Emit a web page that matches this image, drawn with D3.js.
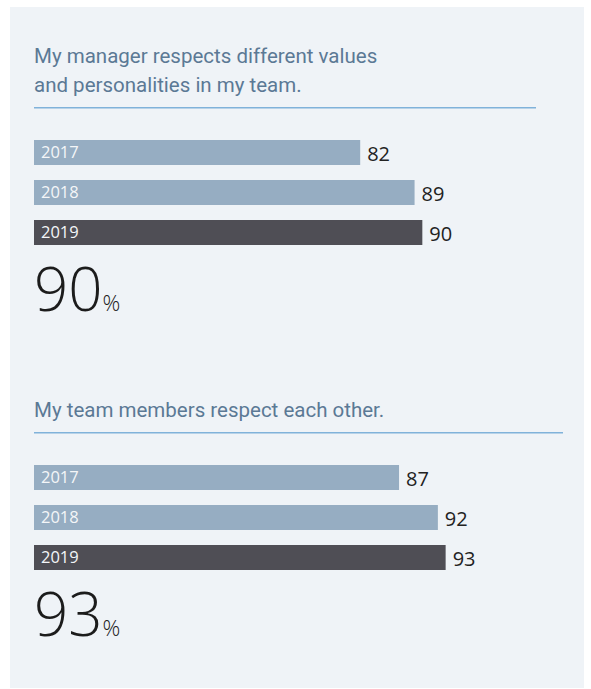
<!DOCTYPE html>
<html>
<head>
<meta charset="utf-8">
<script src="https://cdn.jsdelivr.net/npm/d3@7"></script>
<style>
  html, body { margin: 0; padding: 0; background: #ffffff; }
  svg { display: block; }
</style>
</head>
<body>
<svg id="chart" width="591" height="689"></svg>
<script>
// Survey years and agreement shares (%)
const years = ["2017", "2018", "2019"];
const managerValues = [82, 89, 90];
const teamValues = [87, 92, 93];

const managerTitle = ["My manager respects different values", "and personalities in my team."];
const teamTitle = ["My team members respect each other."];

const svg = d3.select("#chart");

// Panel background
svg.append("rect")
  .attr("x", 10).attr("y", 7)
  .attr("width", 574).attr("height", 681)
  .attr("fill", "#eff3f7");

// Shared horizontal scale for both blocks
const x = d3.scaleLinear().domain([40, 100]).range([34, 500]);

// Vertical band scale for the three years inside a block
const y = d3.scaleBand().domain(years).range([0, 105]).paddingInner(0.375).paddingOuter(0);

function drawBlock(titleLines, values, top, ruleEnd) {
  const g = svg.append("g").attr("transform", `translate(0,${top})`);

  // Question text
  const lineGap = 29;
  const lastBaseline = -48;
  g.selectAll("text.title")
    .data(titleLines)
    .join("text")
    .attr("class", "title")
    .attr("x", 34)
    .attr("y", (d, i) => lastBaseline - (titleLines.length - 1 - i) * lineGap)
    .attr("font-family", "Roboto, 'Open Sans', sans-serif")
    .attr("font-size", 20.5)
    .attr("fill", "#5b7995")
    .text(d => d);

  // Rule under the question
  g.append("line")
    .attr("x1", 34).attr("x2", ruleEnd)
    .attr("y1", -32.3).attr("y2", -32.3)
    .attr("stroke", "#80b2da")
    .attr("stroke-width", 1.5);

  const rows = years.map((yr, i) => ({ year: yr, value: values[i], latest: i === years.length - 1 }));

  // Bars
  g.selectAll("rect.bar")
    .data(rows)
    .join("rect")
    .attr("class", "bar")
    .attr("x", x.range()[0])
    .attr("y", d => y(d.year))
    .attr("width", d => x(d.value) - x.range()[0])
    .attr("height", y.bandwidth())
    .attr("fill", d => d.latest ? "#4f4e55" : "#96adc2");

  // Year labels inside bars
  g.selectAll("text.year")
    .data(rows)
    .join("text")
    .attr("class", "year")
    .attr("x", 41)
    .attr("y", d => y(d.year) + y.bandwidth() / 2)
    .attr("dy", "0.36em")
    .attr("font-family", "'Open Sans', sans-serif")
    .attr("font-size", 16.5)
    .attr("fill", "#f4f6f8")
    .text(d => d.year);

  // Value labels at bar ends
  g.selectAll("text.value")
    .data(rows)
    .join("text")
    .attr("class", "value")
    .attr("x", d => x(d.value) + 7)
    .attr("y", d => y(d.year) + y.bandwidth() / 2)
    .attr("dy", "0.42em")
    .attr("font-family", "'Open Sans', sans-serif")
    .attr("font-size", 20)
    .attr("fill", "#222222")
    .text(d => d.value);

  // Headline figure for the latest year
  const headline = g.append("text")
    .attr("x", 34)
    .attr("y", 171)
    .attr("font-family", "'Open Sans', sans-serif")
    .attr("fill", "#1c1c1c");
  headline.append("tspan")
    .attr("font-size", 60)
    .attr("font-weight", 300)
    .text(values[values.length - 1]);
  headline.append("tspan")
    .attr("font-size", 22)
    .attr("font-weight", 300)
    .text("%");
}

drawBlock(managerTitle, managerValues, 140, 536);
drawBlock(teamTitle, teamValues, 465, 563);
</script>
</body>
</html>
